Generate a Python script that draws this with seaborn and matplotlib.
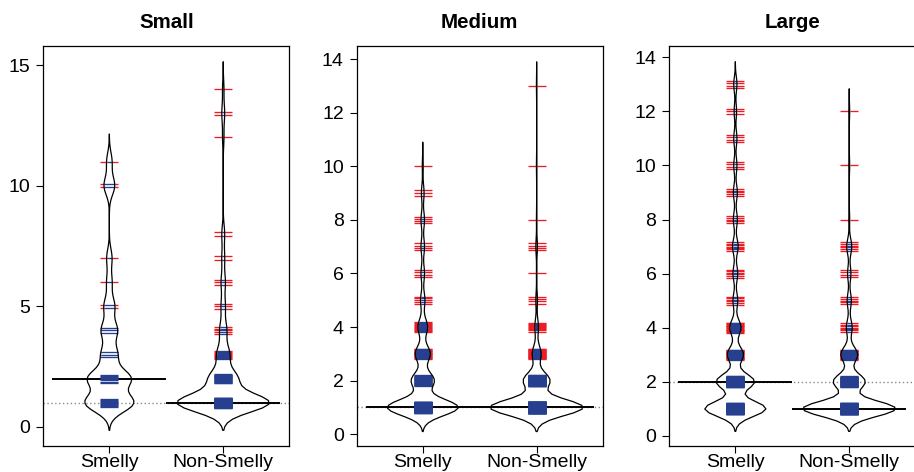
import numpy as np
import pandas as pd
import seaborn as sns
import matplotlib
matplotlib.use("Agg")
import matplotlib.pyplot as plt

# ---------------- data (integer values and how many observations each) -------------
panel_titles = ["Small", "Medium", "Large"]
groups = ["Smelly", "Non-Smelly"]

small_smelly_vals = [1, 2, 3, 4, 5, 6, 7, 10, 11]
small_smelly_counts = [9, 8, 3, 3, 2, 1, 1, 2, 1]
small_non_vals = [1, 2, 3, 4, 5, 6, 7, 8, 12, 13, 14]
small_non_counts = [65, 20, 9, 5, 3, 3, 2, 2, 1, 2, 1]

medium_smelly_vals = [1, 2, 3, 4, 5, 6, 7, 8, 9, 10]
medium_smelly_counts = [80, 26, 17, 11, 5, 4, 4, 4, 3, 1]
medium_non_vals = [1, 2, 3, 4, 5, 6, 7, 8, 10, 13]
medium_non_counts = [230, 66, 22, 9, 4, 1, 4, 1, 1, 1]

large_smelly_vals = [1, 2, 3, 4, 5, 6, 7, 8, 9, 10, 11, 12, 13]
large_smelly_counts = [75, 47, 20, 14, 6, 6, 7, 5, 5, 4, 4, 3, 4]
large_non_vals = [1, 2, 3, 4, 5, 6, 7, 8, 10, 12]
large_non_counts = [110, 38, 20, 7, 5, 4, 6, 1, 1, 1]

panel_data = [
    [(small_smelly_vals, small_smelly_counts), (small_non_vals, small_non_counts)],
    [(medium_smelly_vals, medium_smelly_counts), (medium_non_vals, medium_non_counts)],
    [(large_smelly_vals, large_smelly_counts), (large_non_vals, large_non_counts)],
]
bandwidths = [0.38, 0.30, 0.28]
y_limits = [(-0.79, 15.79), (-0.44, 14.49), (-0.38, 14.42)]
y_ticks = [[0, 5, 10, 15], [0, 2, 4, 6, 8, 10, 12, 14], [0, 2, 4, 6, 8, 10, 12, 14]]

RED = "#EE1C25"
BLUE = "#26408F"
HALF_LINE = 0.08      # half length of a bean line
SPREAD = 0.21         # spread of tied observations

# ---------------- figure -------------
sns.set_theme(style="ticks")
plt.rcParams["font.family"] = ["Liberation Sans", "DejaVu Sans"]
plt.rcParams["text.color"] = "black"

fig = plt.figure(figsize=(9.14, 4.72), dpi=100)
lefts = [43.3 / 914, 356.7 / 914, 669.3 / 914]
W = 246 / 914
B = 26 / 472
H = 400 / 472

for p in range(3):
    ax = fig.add_axes([lefts[p], B, W, H])
    rows = []
    for g, (vals, cnts) in zip(groups, panel_data[p]):
        for v, c in zip(vals, cnts):
            rows += [(g, float(v))] * c
    df = pd.DataFrame(rows, columns=["group", "value"])

    bw = bandwidths[p]
    bw_func = (lambda k, bw=bw: bw / np.std(np.asarray(k.dataset).ravel(), ddof=1))

    sns.violinplot(data=df, x="group", y="value", order=groups, fill=False,
                   color="black", linecolor="black", linewidth=0.9, inner=None,
                   cut=3, bw_method=bw_func, density_norm="area", common_norm=True,
                   width=0.8, ax=ax)
    polys = list(ax.collections)
    for poly in polys:
        poly.set_zorder(5)
        poly.set_edgecolor("black")
        poly.set_facecolor("none")
        poly.set_joinstyle("round")

    # overall median (dotted)
    ax.axhline(np.median(df["value"]), color="#8a8a8a", lw=1.0,
               ls=(0, (1, 1.8)), zorder=1)

    for i, g in enumerate(groups):
        sub = df.loc[df["group"] == g, "value"]
        ax.hlines(np.median(sub), i - 0.5, i + 0.5, colors="black", lw=1.4, zorder=2)
        vals, cnts = panel_data[p][i]
        ys = []
        for v, c in zip(vals, cnts):
            ys.extend(np.linspace(v - SPREAD, v + SPREAD, c + 2)[1:-1])
        ys = np.asarray(ys)

        # half width of the drawn violin at each line height
        verts = polys[i].get_paths()[0].vertices
        m = verts[:, 0] >= i
        vy, vx = verts[m, 1], verts[m, 0] - i
        o = np.argsort(vy)
        hw = np.interp(ys, vy[o], vx[o], left=0, right=0)
        inner = np.clip(hw, 0, HALF_LINE)

        out = inner < HALF_LINE
        ax.hlines(ys[out], i - HALF_LINE, i - inner[out], colors=RED, lw=0.95, zorder=3)
        ax.hlines(ys[out], i + inner[out], i + HALF_LINE, colors=RED, lw=0.95, zorder=3)
        keep = inner > 0.004
        ax.hlines(ys[keep], i - inner[keep], i + inner[keep], colors=BLUE,
                  lw=0.95, zorder=4)

    ax.set_xlim(-0.58, 1.58)
    ax.set_ylim(*y_limits[p])
    ax.set_yticks(y_ticks[p])
    ax.set_xlabel("")
    ax.set_ylabel("")
    for s in ax.spines.values():
        s.set_visible(True)
        s.set_color("black")
        s.set_linewidth(0.9)
    ax.tick_params(axis="both", direction="out", length=5.3, width=0.8,
                   colors="black", labelcolor="black", labelsize=14)
    ax.tick_params(axis="y", pad=4)
    ax.tick_params(axis="x", pad=0.3)
    ax.set_title(panel_titles[p], fontsize=14.8, fontweight="bold", pad=13,
                 color="black")

fig.savefig("out.png", dpi=100)
